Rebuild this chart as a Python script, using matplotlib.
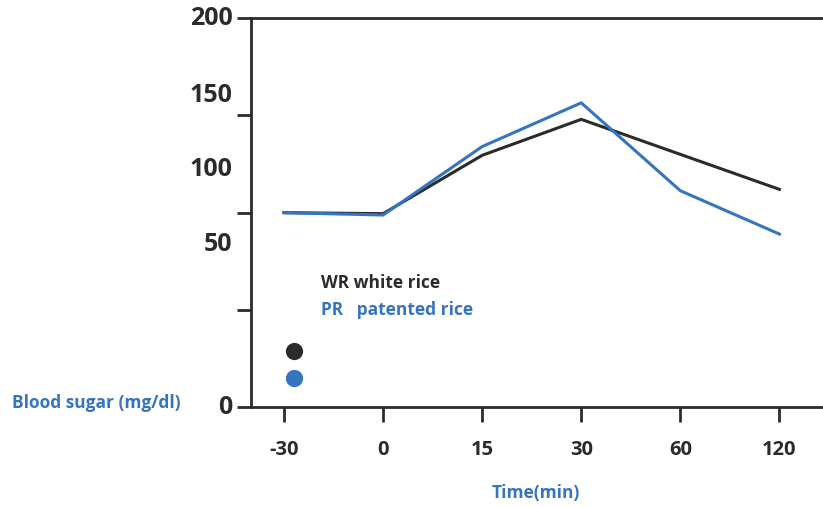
import matplotlib.pyplot as plt
from matplotlib.transforms import blended_transform_factory

# 数据
times = ["-30", "0", "15", "30", "60", "120"]
wr_white = [100, 99.5, 129.5, 148, 130, 112]
pr_patented = [100, 98.8, 134, 156.5, 111.3, 89]

y_ticks = [0, 50, 100, 150, 200]
y_labels = ["0", "50", "100", "150", "200"]
y_label_pos = [0, 83.5, 122, 160.5, 200]   # 原图标签位置与刻度不对齐

black = "#2b2b2b"
blue = "#3674bf"
font = "Open Sans"

plt.rcParams["font.family"] = [font, "DejaVu Sans"]
plt.rcParams["font.weight"] = "bold"

fig = plt.figure(figsize=(8.23, 5.07), dpi=100)
ax = fig.add_axes([0.305, 0.197, 0.695, 0.767])

x = list(range(len(times)))
ax.plot(x, wr_white, color=black, lw=2.2, solid_joinstyle="miter")
ax.plot(x, pr_patented, color=blue, lw=2.2, solid_joinstyle="miter")

ax.set_xlim(-0.333, 5.44)
ax.set_ylim(0, 200)

# 坐标轴
for s in ["left", "bottom", "top"]:
    ax.spines[s].set_linewidth(2)
    ax.spines[s].set_color(black)
ax.spines["right"].set_visible(False)

ax.set_xticks(x)
ax.set_xticklabels(times, fontsize=14.5, fontweight="bold", color=black)
ax.tick_params(axis="x", direction="out", length=11, width=2, color=black, pad=13)

ax.set_yticks(y_ticks)
ax.set_yticklabels([])
ax.tick_params(axis="y", direction="out", length=10, width=2, color=black)

trans = blended_transform_factory(ax.transAxes, ax.transData)
for lab, pos in zip(y_labels, y_label_pos):
    ax.text(-0.032, pos, lab, transform=trans, ha="right", va="center",
            fontsize=18, fontweight="bold", color=black, clip_on=False)

# 图例
ax.scatter([0.075], [0.145], s=130, color=black, transform=ax.transAxes, clip_on=False)
ax.scatter([0.075], [0.076], s=130, color=blue, transform=ax.transAxes, clip_on=False)
ax.text(0.122, 0.32, "WR white rice", transform=ax.transAxes, va="center",
        fontsize=12.5, fontweight="bold", color=black)
ax.text(0.122, 0.25, "PR   patented rice", transform=ax.transAxes, va="center",
        fontsize=12.5, fontweight="bold", color=blue)

# 轴标题
fig.text(12 / 823, 1 - 403 / 507, "Blood sugar (mg/dl)", ha="left", va="center",
         fontsize=12.5, fontweight="bold", color=blue)
fig.text(536 / 823, 1 - 493 / 507, "Time(min)", ha="center", va="center",
         fontsize=12.5, fontweight="bold", color=blue)

plt.savefig("out.png", dpi=100)
